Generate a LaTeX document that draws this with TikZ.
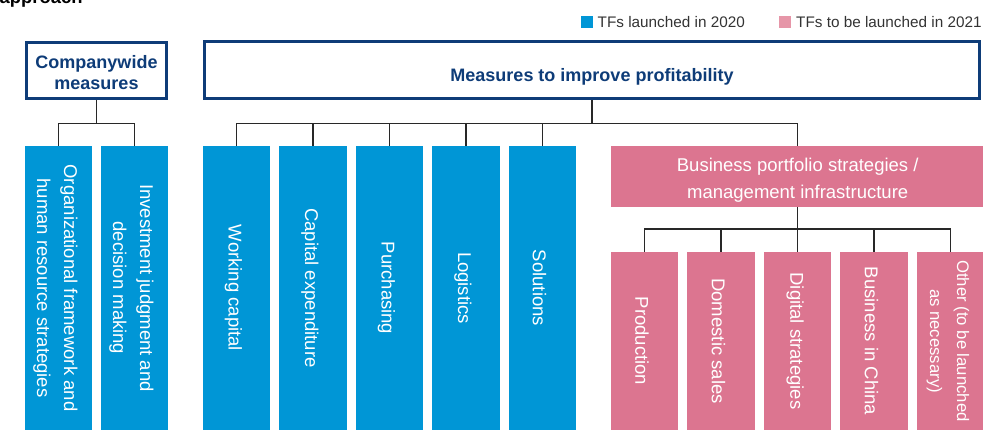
\documentclass[tikz,border=0pt]{standalone}
\usepackage{fontspec}
\setmainfont{Liberation Sans}
\definecolor{navy}{RGB}{14,60,120}
\definecolor{tfblue}{RGB}{0,150,214}
\definecolor{tfpink}{RGB}{220,117,144}
\definecolor{keypink}{RGB}{230,150,168}
\definecolor{wire}{RGB}{40,40,40}
\begin{document}
\begin{tikzpicture}[x=1pt,y=-1pt,
  topbox/.style={draw=navy,line width=3pt,fill=white,inner sep=0pt},
  toptext/.style={text=navy,font=\fontsize{18}{21}\selectfont\bfseries,align=center,inner sep=0pt},
  colbox/.style={inner sep=0pt,outer sep=0pt,minimum width=67.5pt},
  bluecol/.style={colbox,fill=tfblue,minimum height=284pt},
  pinkcol/.style={colbox,fill=tfpink,minimum height=178pt},
  coltext/.style={text=white,font=\fontsize{18.5}{27}\selectfont,align=center,inner sep=0pt,rotate=-90},
  conn/.style={draw=wire,line width=1.1pt},
  keytext/.style={font=\fontsize{15.3}{18}\selectfont,text=black!80,anchor=base west,inner sep=0pt}
]
\useasboundingbox (0,0) rectangle (983,430);

% heading fragment
\node[anchor=base west,inner sep=0pt,font=\fontsize{18.4}{22}\selectfont\bfseries] (head) at (-0.5,3.8) {approach};

% key
\node[fill=tfblue,minimum width=12.5pt,minimum height=12pt,inner sep=0pt] (kb) at (587,22) {};
\node[keytext] (kbt) at (597.5,27.3) {TFs launched in 2020};
\node[fill=keypink,minimum width=12.5pt,minimum height=12pt,inner sep=0pt] (kp) at (785.2,22) {};
\node[keytext] (kpt) at (796,27.3) {TFs to be launched in 2021};

% top-level boxes
\node[topbox,minimum width=140pt,minimum height=56.3pt] (cw) at (96.5,70.35) {};
\node[toptext] (cwt) at (96.5,72.3) {Companywide\\measures};
\node[topbox,minimum width=775pt,minimum height=56.5pt] (mp) at (592,70.25) {};
\node[toptext,anchor=base] (mpt) at (592,81.7) {Measures to improve profitability};

% companywide columns
\node[bluecol] (c1) at (58.5,288) {};
\node[bluecol] (c2) at (134.3,288) {};
\node[coltext] at ([xshift=-3pt]c1.center) {Organizational framework and\\human resource strategies};
\node[coltext] at ([xshift=-3pt]c2.center) {Investment judgment and\\decision making};

% profitability columns
\node[bluecol] (b1) at (236.5,288) {};
\node[bluecol] (b2) at (313,288) {};
\node[bluecol] (b3) at (389.5,288) {};
\node[bluecol] (b4) at (466,288) {};
\node[bluecol] (b5) at (542.5,288) {};
\node[coltext] at ([xshift=-3pt]b1.center) {Working capital};
\node[coltext] at ([xshift=-3pt]b2.center) {Capital expenditure};
\node[coltext] at ([xshift=-3pt]b3.center) {Purchasing};
\node[coltext] at ([xshift=-3pt]b4.center) {Logistics};
\node[coltext] at ([xshift=-3pt]b5.center) {Solutions};

% business portfolio group
\node[fill=tfpink,inner sep=0pt,minimum width=374pt,minimum height=60.7pt] (bp) at (797.7,176.35) {};
\node[text=white,font=\fontsize{18.5}{27}\selectfont,align=center,inner sep=0pt] (bpt) at (797.7,179.8) {Business portfolio strategies /\\management infrastructure};

\node[pinkcol] (p1) at (644.5,341) {};
\node[pinkcol] (p2) at (721,341) {};
\node[pinkcol] (p3) at (797.7,341) {};
\node[pinkcol] (p4) at (874,341) {};
\node[pinkcol] (p5) at (950.5,341) {};
\node[coltext] at ([xshift=-2.5pt]p1.center) {Production};
\node[coltext] at ([xshift=-2.5pt]p2.center) {Domestic sales};
\node[coltext] at ([xshift=-2.5pt]p3.center) {Digital strategies};
\node[coltext] at ([xshift=-2.5pt]p4.center) {Business in China};
\node[coltext,font=\fontsize{16.7}{27}\selectfont] at ([xshift=-2.5pt]p5.center) {Other (to be launched\\as necessary)};

% connectors
\coordinate (busA) at (0,123.3);
\coordinate (busB) at (0,229);
\draw[conn] (cw.south) -- (cw.south |- busA) -| (c1.north);
\draw[conn] (cw.south |- busA) -| (c2.north);

\draw[conn] (mp.south) -- (mp.south |- busA);
\draw[conn] (b1.north) |- (bp.north |- busA) -- (bp.north);
\foreach \n in {b2,b3,b4,b5}
  \draw[conn] (\n.north) -- (\n.north |- busA);

\draw[conn] (bp.south) -- (bp.south |- busB);
\draw[conn] (p1.north) |- (p5.north |- busB) -- (p5.north);
\foreach \n in {p2,p3,p4}
  \draw[conn] (\n.north) -- (\n.north |- busB);
\end{tikzpicture}
\end{document}
